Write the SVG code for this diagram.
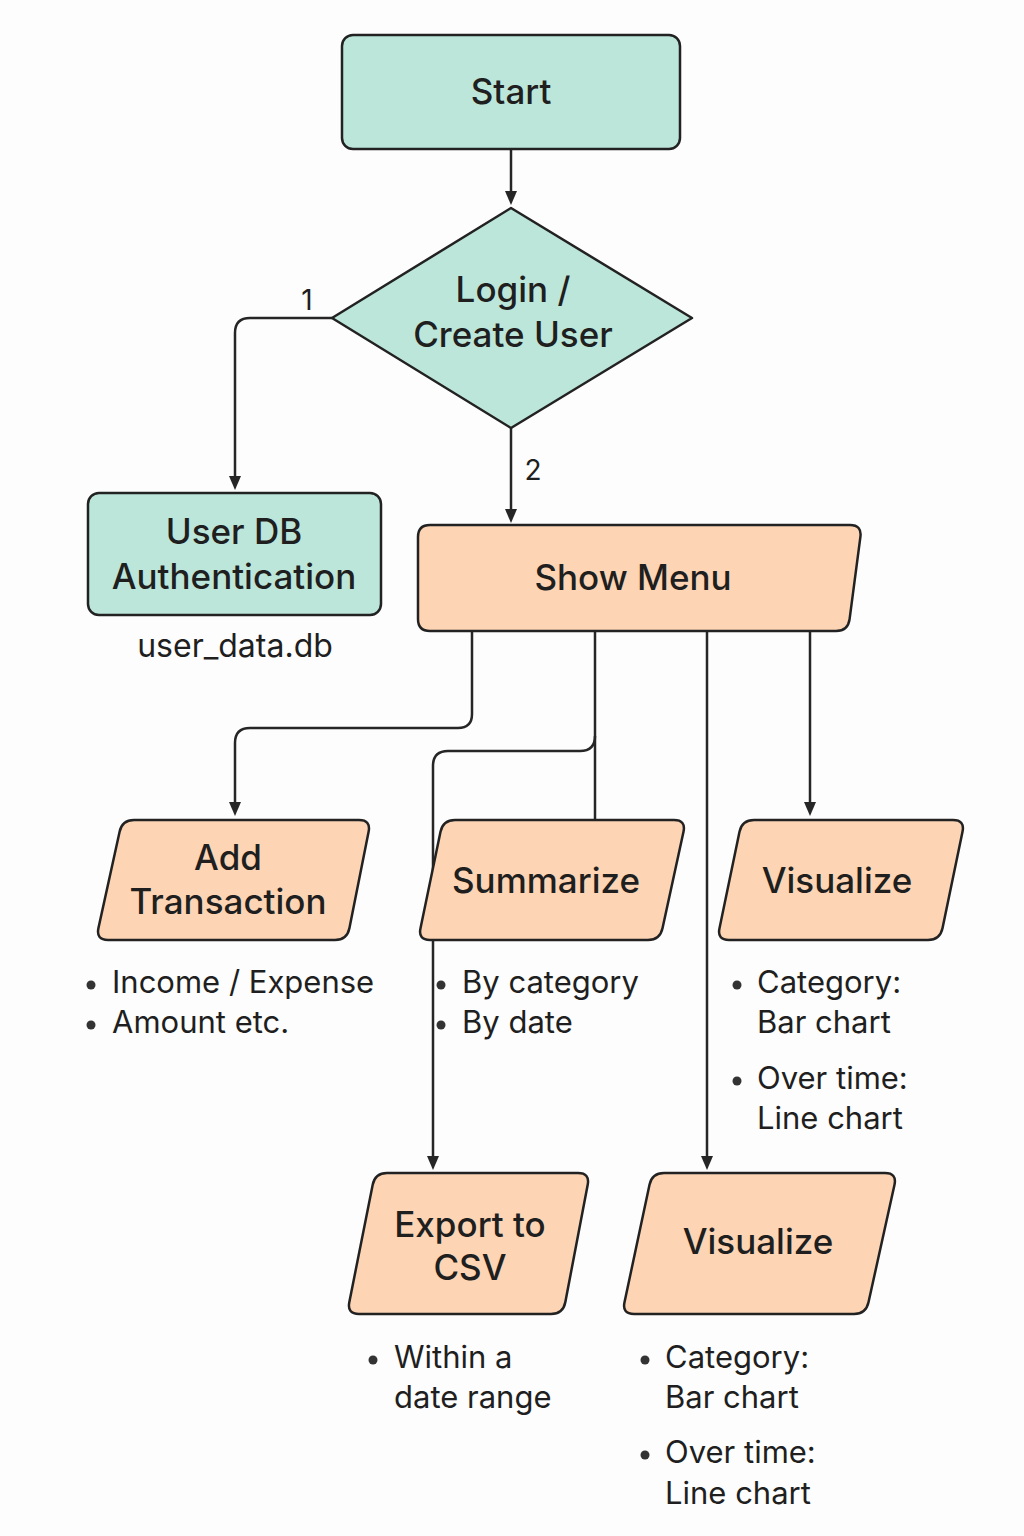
<svg xmlns="http://www.w3.org/2000/svg" width="1024" height="1536" viewBox="0 0 1024 1536">
<defs>
<marker id="arr" viewBox="0 0 14 12" refX="0" refY="6" markerWidth="14" markerHeight="12" markerUnits="userSpaceOnUse" orient="auto">
<path d="M0,0 L14,6 L0,12 Z" fill="#262626"/>
</marker>
<style>
.mint{fill:#bde6da;stroke:#222;stroke-width:2.5;stroke-linejoin:round}
.peach{fill:#fdd5b4;stroke:#222;stroke-width:2.5;stroke-linejoin:round}
.t{font-family:Inter,"Liberation Sans",sans-serif;font-size:35px;font-weight:500;fill:#1f1f1f;text-anchor:middle}
.b{font-family:Inter,"Liberation Sans",sans-serif;font-size:31px;fill:#1f1f1f}
.lbl{font-family:Inter,"Liberation Sans",sans-serif;font-size:28px;fill:#1f1f1f;text-anchor:middle}
.c{fill:none;stroke:#262626;stroke-width:2.5}
.dot{fill:#333}
</style>
</defs>
<rect width="1024" height="1536" fill="#fdfdfd"/>
<g id="connectors">
<path class="c" d="M511,149 L511,191" marker-end="url(#arr)"/>
<path class="c" d="M332,318 L250,318 Q235,318 235,333 L235,476" marker-end="url(#arr)"/>
<path class="c" d="M511,428 L511,509" marker-end="url(#arr)"/>
<path class="c" d="M472,631 L472,714 Q472,728 458,728 L250,728 Q235,728 235,743 L235,802" marker-end="url(#arr)"/>
<path class="c" d="M595,631 L595,820"/>
<path class="c" d="M595,736 Q595,751 580,751 L448,751 Q433,751 433,766 L433,1156" marker-end="url(#arr)"/>
<path class="c" d="M707,631 L707,1156" marker-end="url(#arr)"/>
<path class="c" d="M810,631 L810,802" marker-end="url(#arr)"/>
<text class="lbl" x="307" y="310">1</text>
<text class="lbl" x="533" y="480">2</text>
</g>
<g id="start">
<rect class="mint" x="342" y="35" width="338" height="114" rx="11"/>
<text class="t" x="511" y="104">Start</text>
</g>
<g id="login">
<path class="mint" d="M511,208 L692,318 L511,428 L332,318 Z"/>
<text class="t" x="513" y="302">Login /</text>
<text class="t" x="513" y="347">Create User</text>
</g>
<g id="userdb">
<rect class="mint" x="88" y="493" width="293" height="122" rx="11"/>
<text class="t" x="234" y="544">User DB</text>
<text class="t" x="234" y="589">Authentication</text>
<text class="t" x="235" y="657" style="font-size:32px;font-weight:400">user_data.db</text>
</g>
<g id="showmenu">
<path class="peach" d="M430,525 L850,525 Q862,525 860.4,536.9 L849.6,619.1 Q848,631 836,631 L430,631 Q418,631 418,619 L418,537 Q418,525 430,525Z"/>
<text class="t" x="633" y="590">Show Menu</text>
</g>
<g id="add">
<path class="peach" d="M134,820 L359,820 Q371,820 368.6,831.8 L349.4,928.2 Q347,940 335,940 L108,940 Q96,940 98.4,928.2 L119.6,831.8 Q122,820 134,820Z"/>
<text class="t" x="228" y="870">Add</text>
<text class="t" x="228" y="914">Transaction</text>
<circle class="dot" cx="91" cy="985" r="4.5"/>
<text class="b" x="112" y="993">Income / Expense</text>
<circle class="dot" cx="91" cy="1025" r="4.5"/>
<text class="b" x="112" y="1033">Amount etc.</text>
</g>
<g id="summarize">
<path class="peach" d="M455,820 L674,820 Q686,820 683.5,831.7 L662.5,928.3 Q660,940 648,940 L430,940 Q418,940 420.5,928.3 L440.5,831.7 Q443,820 455,820Z"/>
<text class="t" x="546" y="893">Summarize</text>
<circle class="dot" cx="441" cy="985" r="4.5"/>
<text class="b" x="462" y="993">By category</text>
<circle class="dot" cx="441" cy="1025" r="4.5"/>
<text class="b" x="462" y="1033">By date</text>
</g>
<g id="visualize1">
<path class="peach" d="M754,820 L953,820 Q965,820 962.5,831.7 L942.5,928.3 Q940,940 928,940 L729,940 Q717,940 719.5,928.3 L739.5,831.7 Q742,820 754,820Z"/>
<text class="t" x="837" y="893">Visualize</text>
<circle class="dot" cx="737" cy="985" r="4.5"/>
<text class="b" x="757" y="993">Category:</text>
<text class="b" x="757" y="1033">Bar chart</text>
<circle class="dot" cx="737" cy="1081" r="4.5"/>
<text class="b" x="757" y="1089">Over time:</text>
<text class="b" x="757" y="1129">Line chart</text>
</g>
<g id="export">
<path class="peach" d="M387,1173 L578,1173 Q590,1173 587.7,1184.8 L565.3,1302.2 Q563,1314 551,1314 L359,1314 Q347,1314 349.3,1302.2 L372.7,1184.8 Q375,1173 387,1173Z"/>
<text class="t" x="470" y="1237">Export to</text>
<text class="t" x="470" y="1280">CSV</text>
<circle class="dot" cx="373" cy="1360" r="4.5"/>
<text class="b" x="394" y="1368">Within a</text>
<text class="b" x="394" y="1408">date range</text>
</g>
<g id="visualize2">
<path class="peach" d="M664,1173 L885,1173 Q897,1173 894.5,1184.7 L868.5,1302.3 Q866,1314 854,1314 L634,1314 Q622,1314 624.5,1302.3 L649.5,1184.7 Q652,1173 664,1173Z"/>
<text class="t" x="758" y="1254">Visualize</text>
<circle class="dot" cx="645" cy="1360" r="4.5"/>
<text class="b" x="665" y="1368">Category:</text>
<text class="b" x="665" y="1408">Bar chart</text>
<circle class="dot" cx="645" cy="1455" r="4.5"/>
<text class="b" x="665" y="1463">Over time:</text>
<text class="b" x="665" y="1504">Line chart</text>
</g>
</svg>
